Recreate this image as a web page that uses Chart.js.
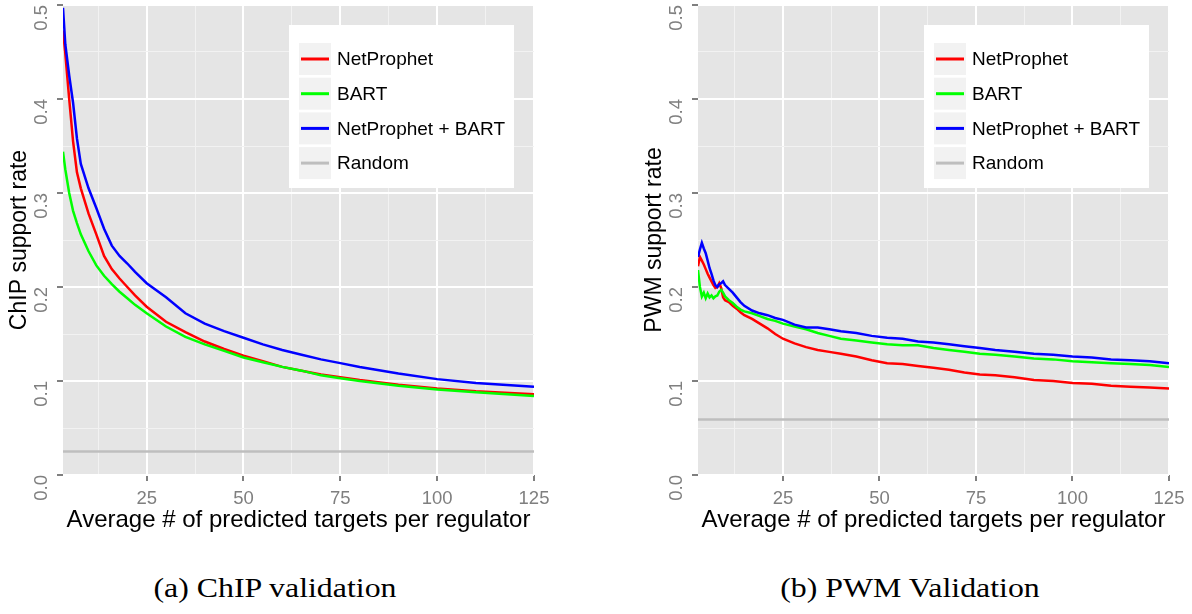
<!DOCTYPE html>
<html>
<head>
<meta charset="utf-8">
<script src="https://cdn.jsdelivr.net/npm/chart.js@4.4.0/dist/chart.umd.min.js"></script>
<style>
  body { margin: 0; background: #fff; width: 1192px; height: 614px; position: relative; overflow: hidden; }
  #chipChart { position: absolute; left: 0; top: 0; }
  #pwmChart { position: absolute; left: 596px; top: 0; }
  .cap { position: absolute; top: 573px; font-family: "Liberation Serif", serif; font-size: 27px; line-height: 30px;
         color: #000; white-space: nowrap; transform: translateX(-50%) scaleX(1.18); }
</style>
</head>
<body>
<canvas id="chipChart" width="596" height="545"></canvas>
<canvas id="pwmChart" width="596" height="545"></canvas>
<div class="cap" style="left:275px">(a) ChIP validation</div>
<div class="cap" style="left:910px">(b) PWM Validation</div>
<script>
// ejes compartidos
const xMajor = [25, 50, 75, 100, 125];
const xMinor = [12.5, 37.5, 62.5, 87.5, 112.5];
const xTickLabels = ["25", "50", "75", "100", "125"];
const yMajor = [0, 0.1, 0.2, 0.3, 0.4, 0.5];
const yMinor = [0.05, 0.15, 0.25, 0.35, 0.45];
const yTickLabels = ["0.0", "0.1", "0.2", "0.3", "0.4", "0.5"];
const seriesNames = ["NetProphet", "BART", "NetProphet + BART", "Random"];
const seriesColors = ["#ff0000", "#00ff00", "#0000ff", "#bebebe"];
const xTitle = "Average # of predicted targets per regulator";

// (a) ChIP validation
const chipX = [3.4, 4, 5, 6, 7, 8, 10, 12, 14, 16, 18, 20, 22, 25, 30, 35, 40, 45, 50, 55, 60, 65, 70, 75, 80, 90, 100, 110, 125];
const chipNetProphet = [0.473, 0.448, 0.400, 0.355, 0.322, 0.305, 0.278, 0.256, 0.233, 0.219, 0.209, 0.200, 0.191, 0.179, 0.163, 0.152, 0.142, 0.134, 0.127, 0.121, 0.115, 0.111, 0.107, 0.104, 0.101, 0.096, 0.092, 0.089, 0.086];
const chipBart = [0.344, 0.325, 0.300, 0.281, 0.268, 0.256, 0.238, 0.223, 0.212, 0.203, 0.195, 0.188, 0.181, 0.172, 0.158, 0.147, 0.139, 0.132, 0.125, 0.120, 0.115, 0.111, 0.106, 0.103, 0.100, 0.095, 0.091, 0.088, 0.084];
const chipCombined = [0.497, 0.458, 0.425, 0.396, 0.358, 0.331, 0.305, 0.284, 0.262, 0.244, 0.233, 0.225, 0.216, 0.204, 0.189, 0.172, 0.161, 0.153, 0.146, 0.139, 0.133, 0.128, 0.123, 0.119, 0.115, 0.108, 0.102, 0.098, 0.094];
const chipRandomX = [3.4, 125];
const chipRandom = [0.025, 0.025];

// (b) PWM Validation
const pwmX = [3, 3.5, 4, 4.5, 5, 5.5, 6, 6.5, 7, 7.5, 8, 8.5, 9, 9.5, 10, 11, 12, 13, 14, 15, 17, 19, 21, 23, 25, 28, 31, 34, 37, 40, 44, 48, 52, 56, 60, 64, 68, 72, 76, 80, 85, 90, 95, 100, 105, 110, 115, 120, 125];
const pwmNetProphet = [0.222, 0.232, 0.228, 0.224, 0.219, 0.214, 0.210, 0.206, 0.202, 0.199, 0.200, 0.204, 0.199, 0.189, 0.186, 0.184, 0.180, 0.177, 0.173, 0.170, 0.166, 0.161, 0.156, 0.150, 0.145, 0.140, 0.136, 0.133, 0.131, 0.129, 0.126, 0.122, 0.119, 0.118, 0.116, 0.114, 0.112, 0.109, 0.107, 0.106, 0.104, 0.101, 0.100, 0.098, 0.097, 0.095, 0.094, 0.093, 0.092];
const pwmBart = [0.218, 0.200, 0.190, 0.194, 0.188, 0.193, 0.189, 0.191, 0.188, 0.190, 0.191, 0.195, 0.197, 0.194, 0.190, 0.186, 0.183, 0.179, 0.176, 0.174, 0.172, 0.169, 0.166, 0.164, 0.161, 0.158, 0.155, 0.151, 0.148, 0.145, 0.143, 0.141, 0.139, 0.138, 0.138, 0.135, 0.133, 0.131, 0.129, 0.128, 0.126, 0.124, 0.123, 0.121, 0.120, 0.119, 0.118, 0.117, 0.115];
const pwmCombined = [0.232, 0.240, 0.247, 0.241, 0.236, 0.228, 0.220, 0.214, 0.207, 0.202, 0.200, 0.203, 0.204, 0.206, 0.202, 0.198, 0.194, 0.189, 0.184, 0.180, 0.175, 0.172, 0.170, 0.167, 0.165, 0.160, 0.157, 0.157, 0.155, 0.153, 0.151, 0.148, 0.146, 0.145, 0.142, 0.141, 0.139, 0.137, 0.135, 0.133, 0.131, 0.129, 0.128, 0.126, 0.125, 0.123, 0.122, 0.121, 0.119];
const pwmRandomX = [3, 125];
const pwmRandom = [0.059, 0.059];

const textFont = "'Liberation Sans', Arial, sans-serif";

function isIn(v, list) {
    return list.some(m => Math.abs(m - v) < 1e-9);
}

function toPoints(xs, ys) {
    return xs.map((x, i) => ({ x: x, y: ys[i] }));
}

// fondo gris estilo ggplot
const panelBg = {
    id: "panelBg",
    beforeDraw(chart) {
        const a = chart.chartArea;
        const ctx = chart.ctx;
        ctx.save();
        ctx.fillStyle = "#e5e5e5";
        ctx.fillRect(a.left, a.top, a.right - a.left, a.bottom - a.top);
        ctx.restore();
    }
};

// leyenda dentro del panel, arriba a la derecha
const insetLegend = {
    id: "insetLegend",
    afterDraw(chart) {
        const a = chart.chartArea;
        const ctx = chart.ctx;
        const boxW = 225, boxH = 163;
        const bx = a.right - 20 - boxW, by = a.top + 20;
        ctx.save();
        ctx.fillStyle = "#ffffff";
        ctx.fillRect(bx, by, boxW, boxH);
        chart.data.datasets.forEach((ds, i) => {
            const kx = bx + 10, ky = by + 18 + i * 34.7;
            ctx.fillStyle = "#f2f2f2";
            ctx.fillRect(kx, ky, 32, 32);
            ctx.strokeStyle = ds.borderColor;
            ctx.lineWidth = 3;
            ctx.beginPath();
            ctx.moveTo(kx + 2, ky + 16);
            ctx.lineTo(kx + 30, ky + 16);
            ctx.stroke();
            ctx.fillStyle = "#000";
            ctx.font = "19px " + textFont;
            ctx.textBaseline = "middle";
            ctx.fillText(ds.label, kx + 38, ky + 17);
        });
        ctx.restore();
    }
};

function makeChart(id, yTitle, xMin, leftPad, rightPad, series) {
    const datasets = series.map((s, i) => ({
        label: seriesNames[i],
        data: toPoints(s.x, s.y),
        borderColor: seriesColors[i],
        borderWidth: 2.5,
        pointRadius: 0,
        tension: 0,
        fill: false,
        order: i === 3 ? 4 : 3 - i
    }));
    return new Chart(document.getElementById(id), {
        type: "line",
        data: { datasets: datasets },
        plugins: [panelBg, insetLegend],
        options: {
            responsive: false,
            animation: false,
            layout: { padding: { left: leftPad, right: rightPad, top: 5, bottom: 0 } },
            plugins: { legend: { display: false }, tooltip: { enabled: false } },
            scales: {
                x: {
                    type: "linear",
                    min: xMin,
                    max: 125,
                    afterBuildTicks: s => {
                        s.ticks = xMajor.concat(xMinor).sort((a, b) => a - b).map(v => ({ value: v }));
                    },
                    afterFit: s => { s.height = 70; s.paddingLeft = 0; s.paddingRight = 0; },
                    border: { display: false },
                    grid: {
                        color: c => (c.tick && isIn(c.tick.value, xMajor)) ? "#ffffff" : "#f2f2f2",
                        lineWidth: c => (c.tick && isIn(c.tick.value, xMajor)) ? 2 : 1,
                        tickLength: 6,
                        tickWidth: 2,
                        tickColor: c => (c.tick && isIn(c.tick.value, xMajor)) ? "#7f7f7f" : "rgba(0,0,0,0)"
                    },
                    ticks: {
                        autoSkip: false,
                        maxRotation: 0,
                        padding: 7,
                        color: "#7f7f7f",
                        font: { family: textFont, size: 18.5 },
                        callback: v => {
                            const k = xMajor.findIndex(m => Math.abs(m - v) < 1e-9);
                            return k >= 0 ? xTickLabels[k] : "";
                        }
                    },
                    title: {
                        display: true,
                        text: xTitle,
                        color: "#000",
                        font: { family: textFont, size: 24 },
                        padding: { top: 0, bottom: 10 }
                    }
                },
                y: {
                    type: "linear",
                    min: 0,
                    max: 0.5,
                    afterBuildTicks: s => {
                        s.ticks = yMajor.concat(yMinor).sort((a, b) => a - b).map(v => ({ value: v }));
                    },
                    afterFit: s => { s.width = 63; s.paddingTop = 0; s.paddingBottom = 0; },
                    border: { display: false },
                    grid: {
                        color: c => (c.tick && isIn(c.tick.value, yMajor)) ? "#ffffff" : "#f2f2f2",
                        lineWidth: c => (c.tick && isIn(c.tick.value, yMajor)) ? 2 : 1,
                        tickLength: 6,
                        tickWidth: 2,
                        tickColor: c => (c.tick && isIn(c.tick.value, yMajor)) ? "#7f7f7f" : "rgba(0,0,0,0)"
                    },
                    ticks: {
                        autoSkip: false,
                        minRotation: 90,
                        maxRotation: 90,
                        crossAlign: "near",
                        padding: 15,
                        color: "#7f7f7f",
                        font: { family: textFont, size: 18.5 },
                        callback: v => {
                            const k = yMajor.findIndex(m => Math.abs(m - v) < 1e-9);
                            return k >= 0 ? yTickLabels[k] : "";
                        }
                    },
                    title: {
                        display: true,
                        text: yTitle,
                        color: "#000",
                        font: { family: textFont, size: 23 },
                        padding: { top: 6, bottom: 0 }
                    }
                }
            }
        }
    });
}

document.addEventListener("DOMContentLoaded", () => {
    makeChart("chipChart", "ChIP support rate", 3.4, 0, 62, [
        { x: chipX, y: chipNetProphet },
        { x: chipX, y: chipBart },
        { x: chipX, y: chipCombined },
        { x: chipRandomX, y: chipRandom }
    ]);
    makeChart("pwmChart", "PWM support rate", 3.0, 39, 23, [
        { x: pwmX, y: pwmNetProphet },
        { x: pwmX, y: pwmBart },
        { x: pwmX, y: pwmCombined },
        { x: pwmRandomX, y: pwmRandom }
    ]);
});
</script>
</body>
</html>
